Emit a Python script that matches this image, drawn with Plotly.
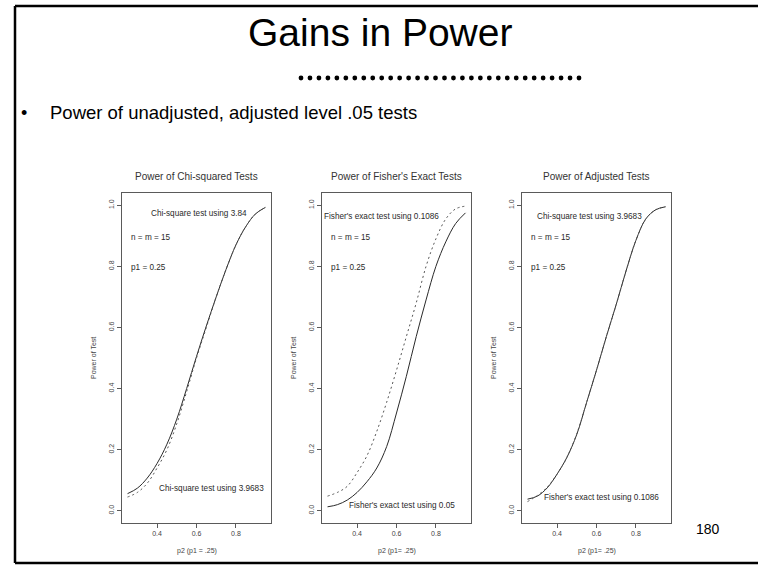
import numpy as np
import plotly.graph_objects as go

W, H = 758, 565

# p2 grid shared by every power curve
p2 = [0.25, 0.30, 0.35, 0.40, 0.45, 0.50, 0.55, 0.60, 0.65, 0.70, 0.75, 0.80, 0.85, 0.90, 0.95]

# Power of Chi-squared tests
chisq_384 = [0.056, 0.074, 0.107, 0.155, 0.218, 0.30, 0.40, 0.505, 0.605, 0.70, 0.79, 0.87, 0.93, 0.972, 0.993]
chisq_39683 = [0.045, 0.06, 0.09, 0.14, 0.20, 0.285, 0.39, 0.50, 0.60, 0.70, 0.79, 0.87, 0.93, 0.972, 0.993]

# Power of Fisher's exact tests
fisher_005 = [0.013, 0.02, 0.035, 0.06, 0.095, 0.14, 0.21, 0.32, 0.44, 0.57, 0.69, 0.80, 0.88, 0.94, 0.975]
fisher_01086 = [0.048, 0.06, 0.08, 0.125, 0.18, 0.26, 0.355, 0.46, 0.57, 0.68, 0.80, 0.89, 0.955, 0.988, 0.997]

# Power of adjusted tests
adj_chisq_39683 = [0.038, 0.048, 0.075, 0.12, 0.175, 0.25, 0.355, 0.46, 0.57, 0.675, 0.785, 0.885, 0.955, 0.985, 0.995]
adj_fisher_01086 = [0.03, 0.05, 0.077, 0.12, 0.175, 0.252, 0.355, 0.46, 0.57, 0.675, 0.785, 0.885, 0.955, 0.985, 0.995]

panel_titles = ["Power of Chi-squared Tests", "Power of Fisher's Exact Tests", "Power of Adjusted Tests"]
x_titles = ["p2 (p1 = .25)", "p2 (p1= .25)", "p2 (p1= .25)"]
y_title = "Power of Test"
x_ticks = [0.4, 0.6, 0.8]
y_ticks = [0.0, 0.2, 0.4, 0.6, 0.8, 1.0]

top_labels = ["Chi-square test using 3.84", "Fisher's exact test using 0.1086", "Chi-square test using 3.9683"]
top_label_x = [0.613, 0.526, 0.564]
top_label_y = [0.974, 0.964, 0.964]
bottom_labels = ["Chi-square test using 3.9683", "Fisher's exact test using 0.05", "Fisher's exact test using 0.1086"]
bottom_label_x = [0.674, 0.626, 0.626]
bottom_label_y = [0.072, 0.016, 0.043]

series = [
    (chisq_384, chisq_39683),
    (fisher_005, fisher_01086),
    (adj_chisq_39683, adj_fisher_01086),
]

slide_title = "Gains in Power"
bullet_text = "Power of unadjusted, adjusted level .05 tests"
page_number = "180"

FONT = "Liberation Sans, Arial, Helvetica, sans-serif"
INK = "#2a2a2a"
DOTS = "#555555"
AXIS = "#5a5a5a"
LABEL = "#444444"

fig = go.Figure()

panel_left = [122, 322, 522]
panel_w = 149
box_top, box_bottom = 193, 523


def px_x(v):
    return v / W


def px_y(v):
    return 1 - v / H


def paper_text(text, x, y, size, color="#000000", xanchor="center", angle=0):
    fig.add_annotation(text=text, x=px_x(x), y=px_y(y), xref="paper", yref="paper", showarrow=False,
                       xanchor=xanchor, yanchor="middle", textangle=angle,
                       font=dict(family=FONT, size=size, color=color))


def data_text(text, x, y, xa, ya, xanchor="center"):
    fig.add_annotation(text=text, x=x, y=y, xref=xa, yref=ya, showarrow=False,
                       xanchor=xanchor, yanchor="middle", font=dict(family=FONT, size=8.2, color=INK))


for i in range(3):
    ax = "" if i == 0 else str(i + 1)
    xa, ya = "x" + ax, "y" + ax
    solid, dotted = series[i]
    fig.add_trace(go.Scatter(x=p2, y=solid, mode="lines", line=dict(color=INK, width=1, shape="spline"),
                             xaxis=xa, yaxis=ya, showlegend=False, hoverinfo="skip"))
    fig.add_trace(go.Scatter(x=p2, y=dotted, mode="lines",
                             line=dict(color=DOTS, width=1, shape="spline", dash="2px,3px"),
                             xaxis=xa, yaxis=ya, showlegend=False, hoverinfo="skip"))

    common = dict(showgrid=False, zeroline=False, showline=True, linecolor=AXIS, linewidth=1,
                  mirror=True, ticks="outside", ticklen=4, tickcolor=AXIS, tickwidth=1,
                  tickfont=dict(family=FONT, size=7, color=LABEL))
    fig.update_layout(**{
        "xaxis" + ax: dict(domain=[px_x(panel_left[i]), px_x(panel_left[i] + panel_w)],
                           range=[0.222, 0.978], tickvals=x_ticks, ticktext=[f"{v:.1f}" for v in x_ticks],
                           anchor=ya, **common),
        "yaxis" + ax: dict(domain=[px_y(box_bottom), px_y(box_top)], range=[-0.04, 1.04],
                           tickvals=y_ticks, ticktext=[f"{v:.1f}" for v in y_ticks], tickangle=-90,
                           anchor=xa, **common),
    })

    cx = panel_left[i] + panel_w / 2
    paper_text(panel_titles[i], cx, 176, 10, "#333333")
    paper_text(x_titles[i], cx, 551, 7, LABEL)
    paper_text(y_title, panel_left[i] - 29, (box_top + box_bottom) / 2, 7, LABEL, angle=-90)

    data_text(top_labels[i], top_label_x[i], top_label_y[i], xa, ya)
    data_text("n = m = 15", 0.257, 0.895, xa, ya, xanchor="left")
    data_text("p1 = 0.25", 0.257, 0.797, xa, ya, xanchor="left")
    data_text(bottom_labels[i], bottom_label_x[i], bottom_label_y[i], xa, ya)

# Slide heading, separator dots, bullet and page number
paper_text(slide_title, 380, 33, 39)
for cx in np.linspace(301, 579, 32):
    fig.add_shape(type="circle", xref="paper", yref="paper",
                  x0=px_x(cx - 2.4), x1=px_x(cx + 2.4), y0=px_y(78 + 2.4), y1=px_y(78 - 2.4),
                  fillcolor="#000000", line=dict(width=0))
paper_text("•", 24, 113, 18)
paper_text(bullet_text, 48, 113, 18.5, xanchor="left")
paper_text(page_number, 708, 529, 14)

# Slide frame: top, left and bottom edges
for x0, y0, x1, y1 in [(15, 6, W, 6), (15, 6, 15, 563), (15, 563, W, 563)]:
    fig.add_shape(type="line", xref="paper", yref="paper", x0=px_x(x0), y0=px_y(y0), x1=px_x(x1), y1=px_y(y1),
                  line=dict(color="#000000", width=2.5))

fig.update_layout(width=W, height=H, margin=dict(l=0, r=0, t=0, b=0), paper_bgcolor="white",
                  plot_bgcolor="white", showlegend=False)

fig.write_html("out.html")
